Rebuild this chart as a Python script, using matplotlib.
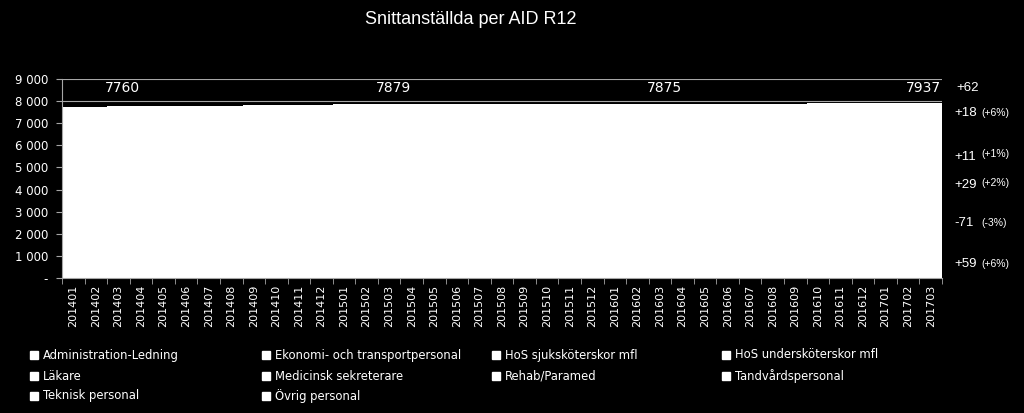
import numpy as np
import matplotlib
matplotlib.use("Agg")
import matplotlib.pyplot as plt
from matplotlib.lines import Line2D

months = ["201401","201402","201403","201404","201405","201406","201407","201408","201409",
          "201410","201411","201412","201501","201502","201503","201504","201505","201506",
          "201507","201508","201509","201510","201511","201512","201601","201602","201603",
          "201604","201605","201606","201607","201608","201609","201610","201611","201612",
          "201701","201702","201703"]

# Total average employees (R12), all personnel categories stacked
totals = [7735, 7748, 7760, 7768, 7776, 7786, 7793, 7800, 7812, 7822, 7832, 7842, 7855, 7867,
          7879, 7882, 7884, 7884, 7882, 7880, 7878, 7877, 7876, 7875, 7874, 7874, 7875,
          7876, 7878, 7880, 7882, 7885, 7888, 7893, 7900, 7910, 7918, 7928, 7937]

categories = ["Administration-Ledning", "Ekonomi- och transportpersonal", "HoS sjuksköterskor mfl",
              "HoS undersköterskor mfl", "Läkare", "Medicinsk sekreterare", "Rehab/Paramed",
              "Tandvårdspersonal", "Teknisk personal", "Övrig personal"]

label_months = ["201403", "201503", "201603", "201703"]
label_values = [7760, 7879, 7875, 7937]

total_change = "+62"
change_values = ["+18", "+11", "+29", "-71", "+59"]
change_pcts = ["(+6%)", "(+1%)", "(+2%)", "(-3%)", "(+6%)"]
change_levels = [7450, 5450, 4200, 2480, 620]
pct_shift = [0, 180, 80, 30, 30]

fig = plt.figure(figsize=(10.24, 4.13), dpi=100, facecolor="black")
ax = fig.add_axes([62/1024, 1-278/413, (942-62)/1024, (278-79)/413])
ax.set_facecolor("black")

x = np.arange(len(months))
ax.stairs(totals, edges=np.arange(-0.5, len(months)), fill=True, color="white", zorder=2, linewidth=0)

ax.set_xlim(-0.5, len(months)-0.5)
ax.set_ylim(0, 9000)
yt = np.arange(0, 9001, 1000)
ax.set_yticks(yt)
ax.set_yticklabels(["-"] + [f"{v//1000} 000" for v in yt[1:]], color="white", fontsize=8.5,
                   family="DejaVu Sans")
ax.yaxis.grid(True, color="#a6a6a6", linewidth=0.8, zorder=1)
ax.set_axisbelow(True)

ax.set_xticks(x)
ax.set_xticklabels(months, rotation=90, color="white", fontsize=8, family="DejaVu Sans")
ax.tick_params(axis="x", which="major", length=0, pad=5)
ax.set_xticks(np.arange(-0.5, len(months)), minor=True)
ax.tick_params(axis="x", which="minor", length=4, color="#a6a6a6", direction="out")
ax.tick_params(axis="y", length=4, color="#a6a6a6", direction="out", pad=6)

for s in ["top", "right"]:
    ax.spines[s].set_visible(False)
for s in ["left", "bottom"]:
    ax.spines[s].set_color("#a6a6a6")
    ax.spines[s].set_linewidth(0.8)
    ax.spines[s].set_zorder(3)

for m, v in zip(label_months, label_values):
    i = months.index(m)
    ha = "right" if i == len(months) - 1 else "center"
    xi = i + 0.45 if ha == "right" else i + 0.2
    ax.text(xi, 8600, str(v), color="white", fontsize=10, ha=ha, va="center", family="DejaVu Sans")

fig.text(471/1024, 1-20/413, "Snittanställda per AID R12", color="white", fontsize=13,
         ha="center", va="center", family="Liberation Sans")

# right-side annotations
yax = ax.get_yaxis_transform()
ax.text(1.016, 8600, total_change, transform=yax, color="white",
        fontsize=9.5, va="center", ha="left", family="Liberation Sans")
for v, p, lvl, sh in zip(change_values, change_pcts, change_levels, pct_shift):
    ax.text(1.014, lvl, v, transform=yax, color="white",
            fontsize=9.5, va="center", ha="left", family="Liberation Sans")
    ax.text(1.045, lvl + sh, p, transform=yax, color="white",
            fontsize=7.5, va="center", ha="left", family="Liberation Sans")

# legend (4 columns, row-major)
col_x = [30, 262, 492, 722]
row_y = [355, 376, 396]
for k, name in enumerate(categories):
    r, c = divmod(k, 4)
    px = col_x[c] / 1024
    py = 1 - row_y[r] / 413
    fig.add_artist(Line2D([px + 4/1024], [py], marker="s", markersize=6, color="white",
                          linestyle="none", transform=fig.transFigure))
    fig.text(px + 13/1024, py, name, color="white", fontsize=9.3, va="center", ha="left",
             family="DejaVu Sans", fontstretch="condensed")

fig.savefig("out.png", dpi=100, facecolor="black")
